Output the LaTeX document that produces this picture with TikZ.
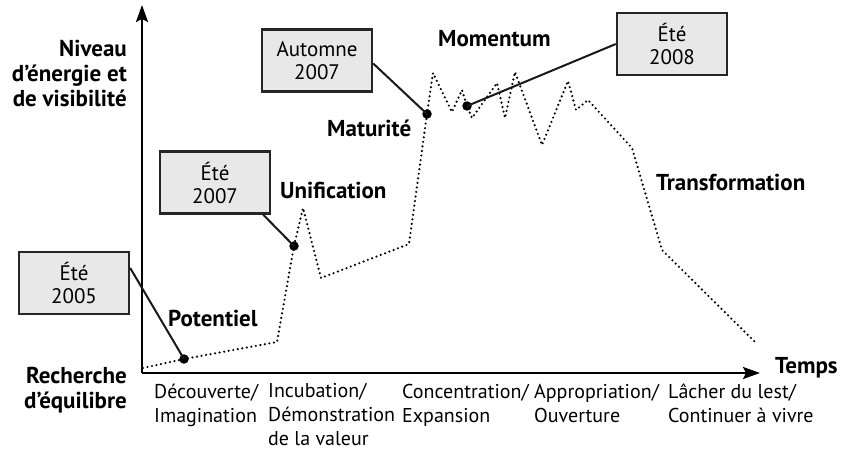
\documentclass[tikz,border=0pt]{standalone}
\usepackage{fontspec}
\setmainfont{PT Sans}
\usetikzlibrary{arrows.meta}
\begin{document}
\begin{tikzpicture}[x=1pt,y=-1pt,
  box/.style={draw=black!85,line width=2.4pt,fill=black!9,minimum width=110pt,minimum height=62pt,inner sep=0pt,align=center,font=\fontsize{21}{23}\selectfont},
  lbl/.style={font=\bfseries\fontsize{23}{25}\selectfont,inner sep=0pt},
  axl/.style={font=\fontsize{20}{24}\selectfont,inner sep=0pt,align=left,anchor=base west},
  dot/.style={circle,fill=black,inner sep=0pt,minimum size=9.5pt},
  link/.style={line width=2pt,draw=black!90},
  trace/.style={line width=2.4pt,dash pattern=on 0pt off 4.6pt,line cap=round},
  axis/.style={line width=2.4pt,-{Stealth[length=17pt,width=12pt,inset=3pt]}}]
\useasboundingbox (0,0) rectangle (841,449);
% axes
\coordinate (O) at (142,373);
\coordinate (Ytip) at (142,5);
\coordinate (Xtip) at (760,373);
\draw[axis] (O) -- (Ytip);
\draw[axis] (O) -- (Xtip);
% trace
\coordinate (p0) at (143,368);
\coordinate (d1) at (184,359);
\coordinate (p1) at (277,342);
\coordinate (d2) at (294,246);
\coordinate (p2) at (303,208);
\coordinate (p3) at (321,278);
\coordinate (p4) at (409,244);
\coordinate (d3) at (427,114);
\coordinate (p5) at (433,73);
\coordinate (p6) at (452,112);
\coordinate (p7) at (462,90);
\coordinate (d4) at (467,106);
\coordinate (p8) at (472,118);
\coordinate (p9) at (497,83);
\coordinate (p10) at (505,118);
\coordinate (p11) at (515,72);
\coordinate (p12) at (542,145);
\coordinate (p13) at (568,81);
\coordinate (p14) at (576,110);
\coordinate (p15) at (588,100);
\coordinate (p16) at (632,148);
\coordinate (p17) at (662,250);
\coordinate (p18) at (756,343);
\draw[trace] (p0) -- (d1) -- (p1) -- (d2) -- (p2) -- (p3) -- (p4) -- (d3) -- (p5) -- (p6) -- (p7) -- (d4) -- (p8) -- (p9) -- (p10) -- (p11) -- (p12) -- (p13) -- (p14) -- (p15) -- (p16) -- (p17) -- (p18);
% boxes
\node[box] (b1) at (74,283) {Été\\2005};
\node[box] (b2) at (215,182.5) {Été\\2007};
\node[box] (b3) at (317,60.5) {Automne\\2007};
\node[box] (b4) at (672,44) {Été\\2008};
% dots
\node[dot] (n1) at (d1) {};
\node[dot] (n2) at (d2) {};
\node[dot] (n3) at (d3) {};
\node[dot] (n4) at (d4) {};
% links
\draw[link] ([yshift=15pt]b1.east) -- (n1.center);
\draw[link] ([xshift=-8pt]b2.south east) -- (n2.center);
\draw[link] ([yshift=-3pt]b3.east) -- (n3.center);
\draw[link] (b4.west) -- (n4.center);
% bold labels
\node[lbl,align=right,anchor=base east] (ylab) at (127,107) {Niveau\\d’énergie et\\de visibilité};
\node[lbl,align=right,anchor=base east] (orig) at (127,408) {Recherche\\d’équilibre};
\node[lbl,anchor=base west] (pot) at (168,326) {Potentiel};
\node[lbl,anchor=base west] (uni) at (280,199) {Unification};
\node[lbl,anchor=base west] (mat) at (327,137) {Maturité};
\node[lbl,anchor=base west] (mom) at (438,47) {Momentum};
\node[lbl,anchor=base west] (tra) at (656,191) {Transformation};
\node[lbl,anchor=base west] (tps) at (775,373) {Temps};
% axis labels
\node[axl] (s1) at (154,422) {Découverte/\\Imagination};
\node[axl] (s2) at (268,445) {Incubation/\\Démonstration\\de la valeur};
\node[axl] (s3) at (402,422) {Concentration/\\Expansion};
\node[axl] (s4) at (534,422) {Appropriation/\\Ouverture};
\node[axl] (s5) at (668,422) {Lâcher du lest/\\Continuer à vivre};
\end{tikzpicture}
\end{document}
